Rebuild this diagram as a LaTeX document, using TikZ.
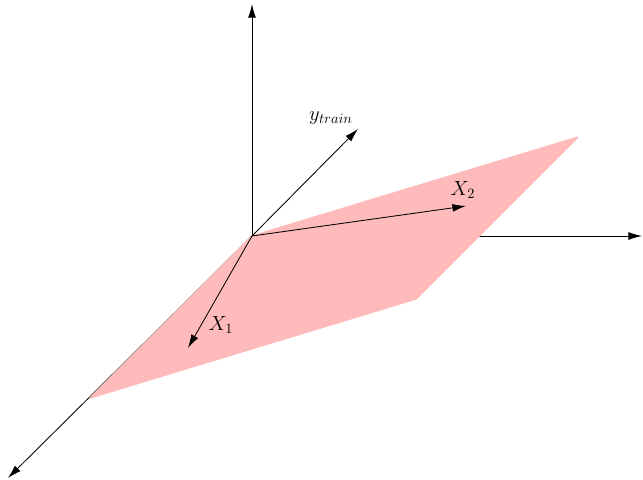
\documentclass[tikz,border=0pt]{standalone}
\usepackage{tikz}
\usetikzlibrary{arrows.meta,positioning,calc}
\definecolor{planepink}{RGB}{255,187,187}
\tikzset{
  pl/axis/.style={-{Latex[length=9.5pt,width=5.5pt]}, black, line width=0.6pt},
  pl/vec/.style={-{Latex[length=9.5pt,width=5.5pt]}, black, line width=0.6pt},
  pl/plane/.style={fill=planepink, draw=planepink, line width=1pt, line join=bevel},
  pl/lab/.style={inner sep=1pt, font=\fontsize{14}{16}\selectfont}
}
\begin{document}
\begin{tikzpicture}[x=0.7pt, y=-0.7pt]
  \useasboundingbox (0,0) rectangle (643,480);
  % axes
  \coordinate (o) at (252,236);
  \coordinate (zt) at (252,4);
  \coordinate (xt) at (642,236);
  \coordinate (yt) at (8,478);
  \draw[pl/axis] (o) -- (zt);
  \draw[pl/axis] (o) -- (xt);
  \draw[pl/axis] (o) -- (yt);

  % plane
  \coordinate (pa) at (578,137);
  \coordinate (pb) at (416,299);
  \coordinate (pc) at (90,398);
  \filldraw[pl/plane] (o) -- (pa) -- (pb) -- (pc) -- cycle;

  % vectors
  \coordinate (x1) at (188,348);
  \coordinate (x2) at (466,206);
  \coordinate (yv) at (358,129);
  \draw[pl/vec] (o) -- (x1);
  \draw[pl/vec] (o) -- (x2);
  \draw[pl/vec] (o) -- (yv);

  \node[pl/lab] (lx1) at (221,325) {$X_1$};
  \node[pl/lab] (lx2) at (463,190) {$X_2$};
  \node[pl/lab] (ly) at (331,118) {$y_{train}$};
\end{tikzpicture}
\end{document}
